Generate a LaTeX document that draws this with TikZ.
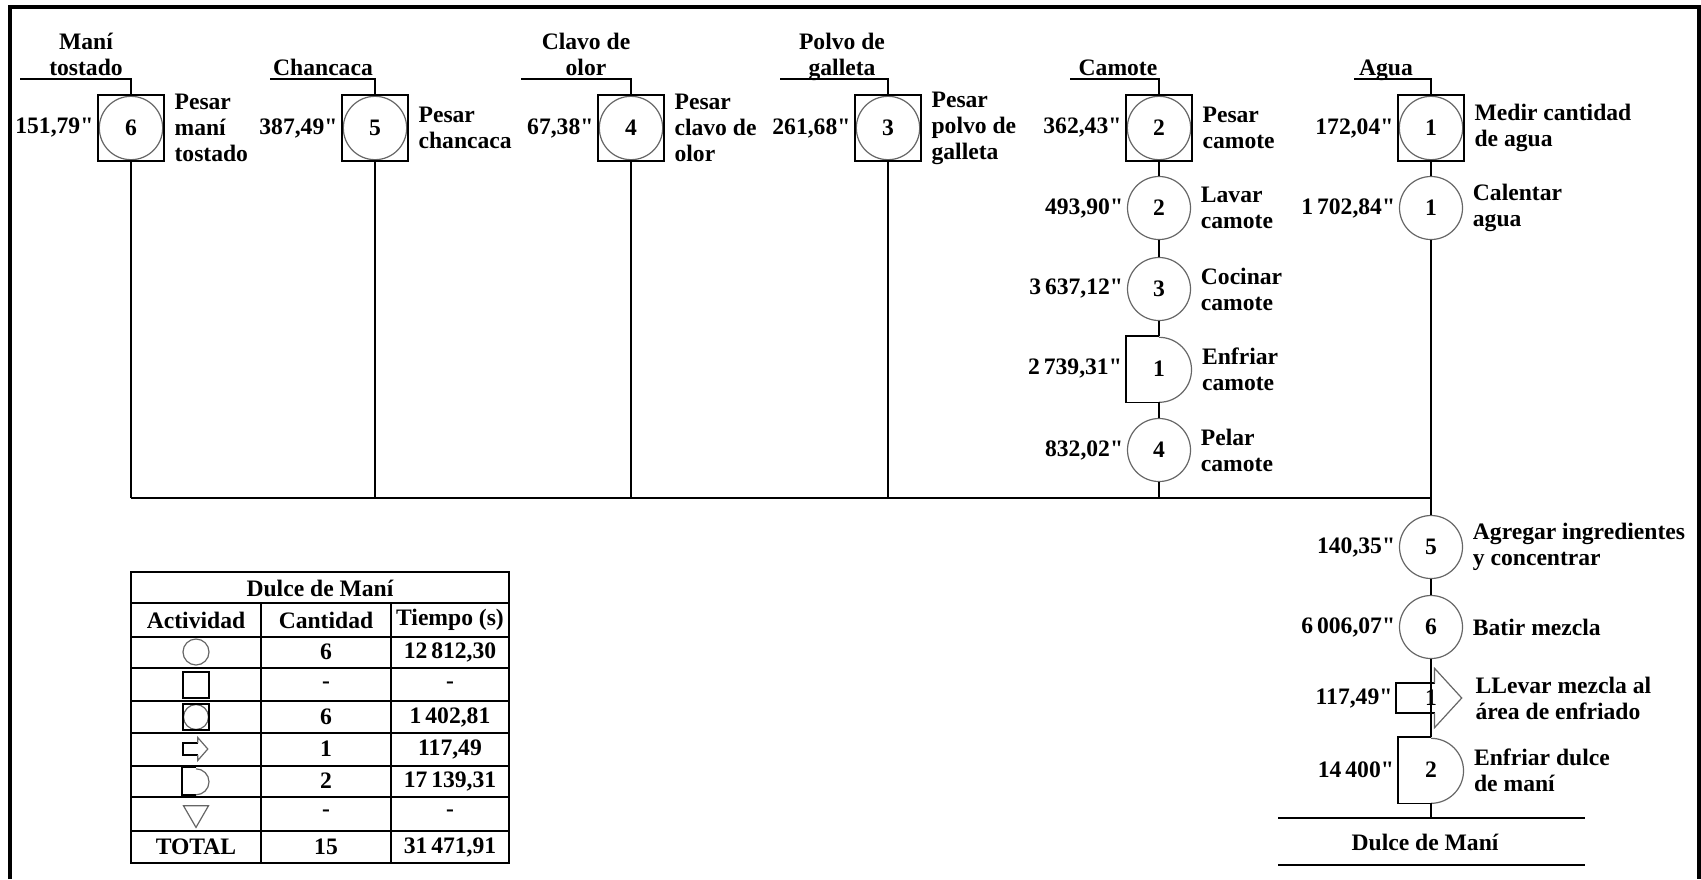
\documentclass[tikz,border=0pt]{standalone}
\usepackage{fontspec}
\setmainfont{Liberation Serif}[Ligatures=TeXOff]
\usetikzlibrary{shapes.geometric}
\tikzset{
    op/.style={circle, draw=black!60, line width=0.6pt, minimum size=#1, inner sep=0pt},
    op/.default=31.5pt,
    insp/.style={rectangle, draw, line width=0.8pt, minimum size=#1, inner sep=0pt},
    insp/.default=33pt,
    opbox/.style={insp=#1, path picture={\draw[black!60, line width=0.6pt] (path picture bounding box.center) circle[radius=0.48*#1];}},
    opbox/.default=33pt,
    delay/.style={rectangle, minimum size=#1, inner sep=0pt,
        append after command={\pgfextra{\let\dnode=\tikzlastnode
            \draw[line width=0.8pt] (\dnode.north) -- (\dnode.north west) -- (\dnode.south west) -- (\dnode.south);
            \draw[black!60, line width=0.6pt] (\dnode.south) arc[start angle=-90, end angle=90, radius=0.5*#1];}}},
    delay/.default=32.5pt,
    transp/.style={rectangle, minimum width=#1, minimum height=0.41*#1, inner sep=0pt,
        append after command={\pgfextra{\let\tnode=\tikzlastnode
            \draw[line width=0.8pt] ([xshift=-0.46*#1]\tnode.north east) -- (\tnode.north west)
                -- (\tnode.south west) -- ([xshift=-0.46*#1]\tnode.south east);
            \draw[black!60, line width=0.6pt] ([xshift=-0.46*#1]\tnode.north east)
                -- ([xshift=-0.46*#1, yshift=0.22*#1]\tnode.north east) -- ([xshift=-0.06*#1]\tnode.east)
                -- ([xshift=-0.46*#1, yshift=-0.22*#1]\tnode.south east) -- ([xshift=-0.46*#1]\tnode.south east);}}},
    transp/.default=34pt,
    store/.style={regular polygon, regular polygon sides=3, shape border rotate=180, draw=black!60, line width=0.6pt, minimum size=#1, inner sep=0pt},
    tme/.style={inner xsep=1.5pt, inner ysep=0pt},
    desc/.style={inner xsep=4.5pt, inner ysep=0pt, align=left},
    inlbl/.style={align=center, inner xsep=0pt, inner ysep=1.5pt, text depth=0pt, anchor=south}
}

\begin{document}
\begin{tikzpicture}[x=0.5pt, y=0.5pt, line width=0.8pt, font=\fontsize{11.8}{13}\selectfont\bfseries]
    \useasboundingbox (0,0) rectangle (1701,-879);

    % --- Frame ---
    \draw[line width=2pt] (10,-879) -- (10,-7) -- (1699,-7) -- (1699,-879);

    % --- Weighing / measuring steps ---
    \node [opbox] (p6) at (131,-128) {6};
    \node [opbox] (p5) at (375,-128) {5};
    \node [opbox] (p4) at (631,-128) {4};
    \node [opbox] (p3) at (888,-128) {3};
    \node [opbox] (p2) at (1159,-128) {2};
    \node [opbox] (p1) at (1431,-128) {1};

    % --- Camote line ---
    \node [op] (lav) at (1159,-208) {2};
    \node [op] (coc) at (1159,-289) {3};
    \node [delay] (enf) at (1159,-369) {1};
    \node [op] (pel) at (1159,-450) {4};

    % --- Agua line ---
    \node [op] (cal) at (1431,-208) {1};

    % --- Main line ---
    \node [op] (agr) at (1431,-547) {5};
    \node [op] (bat) at (1431,-627) {6};
    \node [transp] (lle) at (1431,-698) {1};
    \node [delay] (enfd) at (1431,-770) {2};

    % --- Inputs ---
    \coordinate (inMani) at (20,-79);
    \coordinate (inChan) at (270,-79);
    \coordinate (inClavo) at (521,-79);
    \coordinate (inPolvo) at (780,-79);
    \coordinate (inCam) at (1070,-79);
    \coordinate (inAgua) at (1354,-79);
    \draw (inMani) -| (p6);
    \draw (inChan) -| (p5);
    \draw (inClavo) -| (p4);
    \draw (inPolvo) -| (p3);
    \draw (inCam) -| (p2);
    \draw (inAgua) -| (p1);
    \node [inlbl] (lMani) at (86,-79) {Maní\\tostado};
    \node [inlbl] (lChan) at (323,-79) {Chancaca};
    \node [inlbl] (lClavo) at (586,-79) {Clavo de\\olor};
    \node [inlbl] (lPolvo) at (842,-79) {Polvo de\\galleta};
    \node [inlbl] (lCam) at (1118,-79) {Camote};
    \node [inlbl] (lAgua) at (1386,-79) {Agua};

    % --- Flow ---
    \coordinate (j6) at (131,-498);
    \coordinate (j5) at (375,-498);
    \coordinate (j4) at (631,-498);
    \coordinate (j3) at (888,-498);
    \coordinate (j2) at (1159,-498);
    \coordinate (j1) at (1431,-498);
    \coordinate (o1) at (1431,-818);
    \draw (p6) -- (j6);
    \draw (p5) -- (j5);
    \draw (p4) -- (j4);
    \draw (p3) -- (j3);
    \draw (p2) -- (lav) -- (coc) -- (enf) -- (pel) -- (j2);
    \draw (p1) -- (cal) -- (j1) -- (agr) -- (bat) -- (lle) -- (enfd) -- (o1);
    \draw (lle.north) -- (lle.south);
    \draw (j6) -- (j1);

    % --- Times ---
    \node [tme, left] (t6) at (p6.west) {151,79"};
    \node [tme, left] (t5) at (p5.west) {387,49"};
    \node [tme, left] (t4) at (p4.west) {67,38"};
    \node [tme, left] (t3) at (p3.west) {261,68"};
    \node [tme, left] (t2) at (p2.west) {362,43"};
    \node [tme, left] (t1) at (p1.west) {172,04"};
    \node [tme, left] (tLav) at (lav.west) {493,90"};
    \node [tme, left] (tCoc) at (coc.west) {3\,637,12"};
    \node [tme, left] (tEnf) at (enf.west) {2\,739,31"};
    \node [tme, left] (tPel) at (pel.west) {832,02"};
    \node [tme, left] (tCal) at (cal.west) {1\,702,84"};
    \node [tme, left] (tAgr) at (agr.west) {140,35"};
    \node [tme, left] (tBat) at (bat.west) {6\,006,07"};
    \node [tme, left] (tLle) at (lle.west) {117,49"};
    \node [tme, left] (tEnfd) at (enfd.west) {14\,400"};

    % --- Descriptions ---
    \node [desc, right] (d6) at (p6.east) {Pesar\\maní\\tostado};
    \node [desc, right] (d5) at (p5.east) {Pesar\\chancaca};
    \node [desc, right] (d4) at (p4.east) {Pesar\\clavo de\\olor};
    \node [desc, right] (d3) at (p3.east) {Pesar\\polvo de\\galleta};
    \node [desc, right] (d2) at (p2.east) {Pesar\\camote};
    \node [desc, right] (d1) at (p1.east) {Medir cantidad\\de agua};
    \node [desc, right] (dLav) at (lav.east) {Lavar\\camote};
    \node [desc, right] (dCoc) at (coc.east) {Cocinar\\camote};
    \node [desc, right] (dEnf) at (enf.east) {Enfriar\\camote};
    \node [desc, right] (dPel) at (pel.east) {Pelar\\camote};
    \node [desc, right] (dCal) at (cal.east) {Calentar\\agua};
    \node [desc, right] (dAgr) at (agr.east) {Agregar ingredientes\\y concentrar};
    \node [desc, right] (dBat) at (bat.east) {Batir mezcla};
    \node [desc, right] (dLle) at (lle.east) {LLevar mezcla al\\área de enfriado};
    \node [desc, right] (dEnfd) at (enfd.east) {Enfriar dulce\\de maní};

    % --- Product ---
    \coordinate (o1L) at (1278,-818);
    \coordinate (o1R) at (1585,-818);
    \coordinate (o2L) at (1278,-865);
    \coordinate (o2R) at (1585,-865);
    \draw (o1L) -- (o1R);
    \draw (o2L) -- (o2R);
    \node (prod) at (1425,-842) {Dulce de Maní};

    % --- Summary table ---
    \draw (131,-572) rectangle (509,-863);
    \foreach \y in {603,637,668,701,733,766,797,831}
        \draw (131,-\y) -- (509,-\y);
    \draw (261,-603) -- (261,-863);
    \draw (391,-603) -- (391,-863);
    \node (tH) at (320,-588) {Dulce de Maní};
    \node (tA) at (196,-620) {Actividad};
    \node (tC) at (326,-620) {Cantidad};
    \node (tT) at (450,-620) {Tiempo (s)};
    \node [op=13pt] (s1) at (196,-652) {};
    \node [insp=13pt] (s2) at (196,-685) {};
    \node [opbox=13pt] (s3) at (196,-717) {};
    \node [transp=12.5pt] (s4) at (196,-749) {};
    \node [delay=13pt] (s5) at (196,-781) {};
    \node [store=14.4pt] (s6) at (196,-813) {};
    \node (s7) at (196,-847) {TOTAL};
    \foreach \n/\y/\c/\t in {1/652/6/{12\,812,30}, 2/685/-/-, 3/717/6/{1\,402,81}, 4/749/1/{117,49},
                             5/781/2/{17\,139,31}, 6/813/-/-, 7/847/15/{31\,471,91}} {
        \node (c\n) at (326,-\y) {\c};
        \node (v\n) at (450,-\y) {\t};
    }
\end{tikzpicture}
\end{document}
